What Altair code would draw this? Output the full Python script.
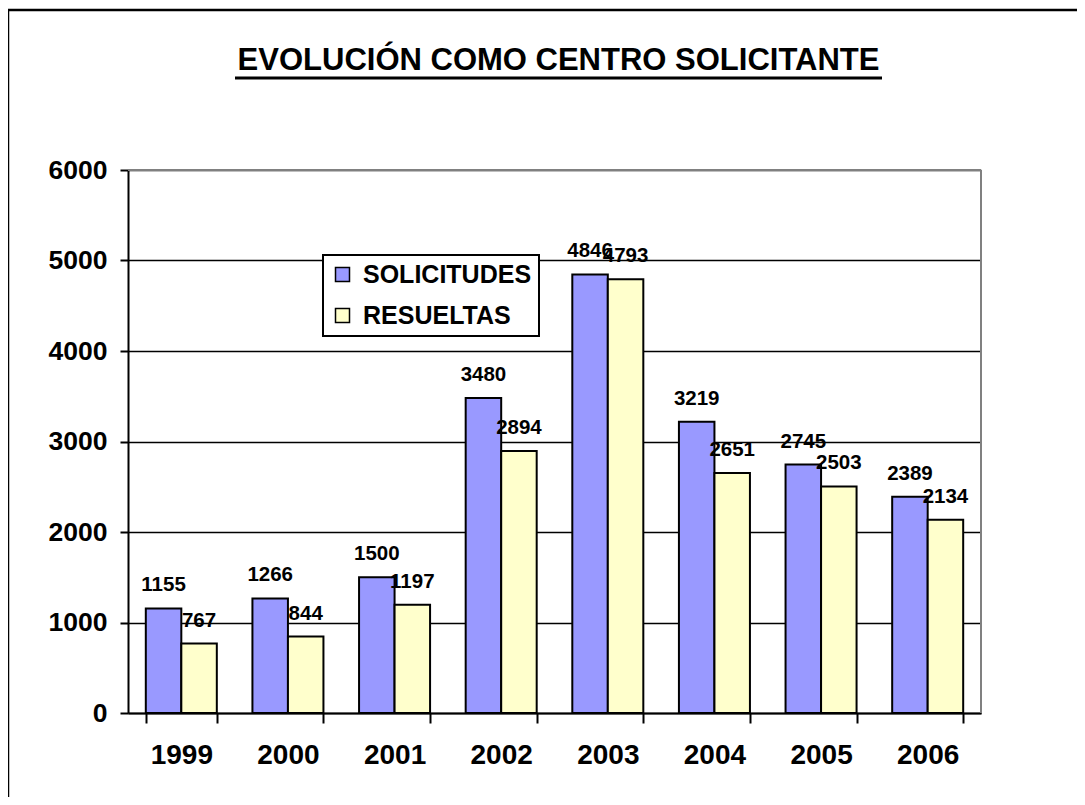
import altair as alt
import pandas as pd

years = ["1999", "2000", "2001", "2002", "2003", "2004", "2005", "2006"]
solicitudes = [1155, 1266, 1500, 3480, 4846, 3219, 2745, 2389]
resueltas = [767, 844, 1197, 2894, 4793, 2651, 2503, 2134]
series = ["SOLICITUDES", "RESUELTAS"]
colors = ["#9999FF", "#FFFFCC"]
title_text = "EVOLUCIÓN COMO CENTRO SOLICITANTE"
y_ticks = [0, 1000, 2000, 3000, 4000, 5000, 6000]

rows = []
for yr, s, r in zip(years, solicitudes, resueltas):
    rows.append({"year": yr, "series": series[0], "value": s})
    rows.append({"year": yr, "series": series[1], "value": r})
df = pd.DataFrame(rows)
one = pd.DataFrame({"t": [title_text]})

FONT = "Liberation Sans"
W, H = 853, 543

x = alt.X("year:N", sort=years,
          scale=alt.Scale(paddingInner=0.334, paddingOuter=0.167),
          axis=alt.Axis(title=None, labelAngle=0, labelFontSize=28, labelPadding=18,
                        tickSize=10, tickBand="extent", grid=False))
xo = alt.XOffset("series:N", sort=series, scale=alt.Scale(paddingInner=0, paddingOuter=0))
y = alt.Y("value:Q", scale=alt.Scale(domain=[0, 6000], nice=False),
          axis=alt.Axis(title=None, values=y_ticks, format="d", labelFontSize=26.5,
                        labelPadding=13, tickSize=8, grid=True, gridColor="black",
                        gridWidth=1.5))

bars = alt.Chart(df).mark_bar(stroke="black", strokeWidth=2).encode(
    x=x, xOffset=xo, y=y,
    color=alt.Color("series:N", sort=series,
                    scale=alt.Scale(domain=series, range=colors),
                    legend=alt.Legend(title=None, orient="none", legendX=195, legendY=85,
                                      symbolType="square", symbolSize=196,
                                      symbolStrokeColor="black", symbolStrokeWidth=1.5,
                                      labelFontSize=25, labelFont=FONT,
                                      labelFontWeight="bold", labelColor="black",
                                      labelLimit=0,
                                      strokeColor="black", fillColor="white",
                                      padding=7, rowPadding=15, labelOffset=8)),
)

labels = alt.Chart(df).mark_text(baseline="alphabetic", dy=-17, fontSize=20.5, font=FONT,
                                 fontWeight="bold", color="black").encode(
    x=x, xOffset=xo, y=y, text=alt.Text("value:Q", format="d"),
)

title = alt.Chart(one).mark_text(baseline="alphabetic", align="center", fontSize=31,
                                 font=FONT, fontWeight="bold", color="black").encode(
    x=alt.value(430.5), y=alt.value(-100), text="t:N")
frame_top = alt.Chart(one).mark_rule(color="#808080", strokeWidth=2).encode(
    x=alt.value(0), x2=alt.value(W), y=alt.value(0))
frame_right = alt.Chart(one).mark_rule(color="#808080", strokeWidth=2).encode(
    x=alt.value(W), y=alt.value(0), y2=alt.value(H))
underline = alt.Chart(one).mark_rule(color="black", strokeWidth=3).encode(
    x=alt.value(107), x2=alt.value(754), y=alt.value(-92))
border = alt.Chart(one).mark_rect(filled=False, stroke="black", strokeWidth=2.5).encode(
    x=alt.value(-120), x2=alt.value(1100), y=alt.value(-160), y2=alt.value(900))

chart = alt.layer(border, title, underline, bars, labels, frame_top, frame_right).properties(
    width=W, height=H,
    autosize=alt.AutoSizeParams(type="none"),
    padding={"left": 120, "top": 162, "right": 96, "bottom": 84},
).configure_view(stroke=None).configure_axis(
    labelFont=FONT, labelFontWeight="bold", labelColor="black",
    domainColor="black", domainWidth=2, tickColor="black", tickWidth=2,
).configure_legend(strokeWidth=2)

chart.save("out.html", embed_options={"renderer": "svg", "actions": False})
